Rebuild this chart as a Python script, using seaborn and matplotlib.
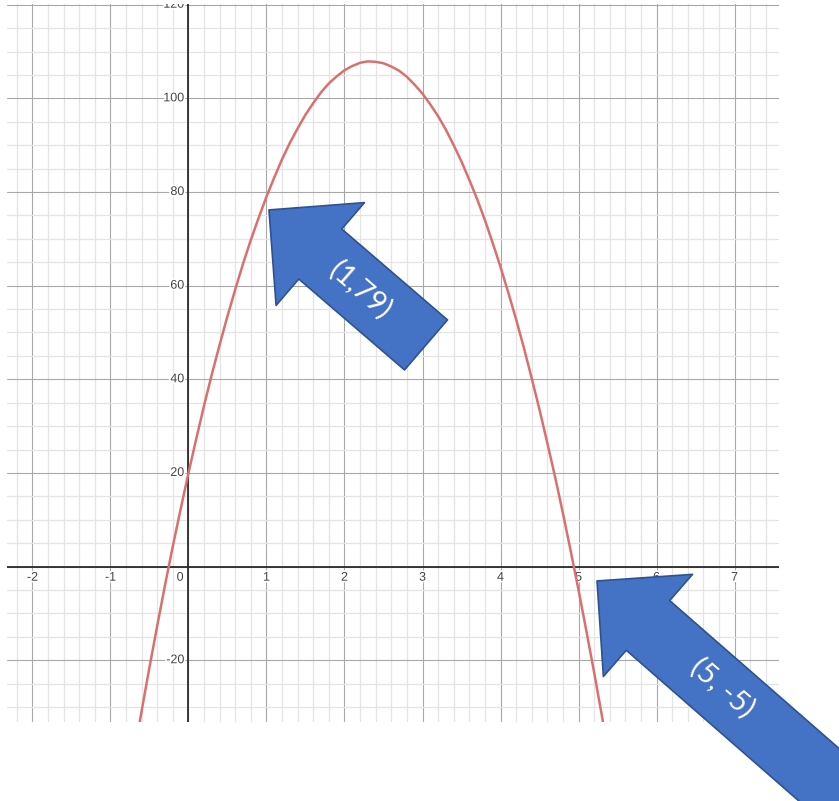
import numpy as np
import pandas as pd
import seaborn as sns
import matplotlib.pyplot as plt
import matplotlib.transforms as mtransforms
import matplotlib.patheffects as pe
from matplotlib.patches import FancyArrowPatch
from matplotlib.ticker import MultipleLocator

# points
x_vals = [-0.7, -0.6, -0.5, -0.4, -0.3, -0.2, -0.1, 0.0, 0.1, 0.2, 0.3, 0.4, 0.5, 0.6,
          0.7, 0.8, 0.9, 1.0, 1.1, 1.2, 1.3, 1.4, 1.5, 1.6, 1.7, 1.8, 1.9, 2.0, 2.1,
          2.2, 2.3, 2.4, 2.5, 2.6, 2.7, 2.8, 2.9, 3.0, 3.1, 3.2, 3.3, 3.4, 3.5, 3.6,
          3.7, 3.8, 3.9, 4.0, 4.1, 4.2, 4.3, 4.4, 4.5, 4.6, 4.7, 4.8, 4.9, 5.0, 5.1,
          5.2, 5.3, 5.4]
y_vals = [-40.3, -30.8, -21.5, -12.6, -3.9, 4.4, 12.3, 20.0, 27.3, 34.4, 41.1, 47.4, 53.5, 59.2,
          64.7, 69.8, 74.5, 79.0, 83.1, 87.0, 90.5, 93.6, 96.5, 99.0, 101.3, 103.2, 104.7, 106.0, 106.9,
          107.6, 107.9, 107.8, 107.5, 106.8, 105.9, 104.6, 102.9, 101.0, 98.7, 96.2, 93.3, 90.0, 86.5, 82.6,
          78.5, 74.0, 69.1, 64.0, 58.5, 52.8, 46.7, 40.2, 33.5, 26.4, 19.1, 11.4, 3.3, -5.0, -13.7,
          -22.6, -31.9, -41.6]

x_tick_labels = [-2, -1, 1, 2, 3, 4, 5, 6, 7]
y_tick_labels = [-20, 20, 40, 60, 80, 100, 120]

callout_labels = ["(1,79)", "(5, -5)"]

df = pd.DataFrame({"x": x_vals, "y": y_vals})

sns.set_style("white")
plt.rcParams['font.family'] = ['Liberation Sans', 'DejaVu Sans']

fig = plt.figure(figsize=(8.39, 8.01), dpi=100)
ax = fig.add_axes([0.008, 0.0986, 0.9205, 0.8964])

ax.set_xlim(-2.33, 7.57)
ax.set_ylim(-33.2, 120.15)

# grid
ax.xaxis.set_major_locator(MultipleLocator(1))
ax.xaxis.set_minor_locator(MultipleLocator(0.2))
ax.yaxis.set_major_locator(MultipleLocator(20))
ax.yaxis.set_minor_locator(MultipleLocator(5))
ax.grid(which="minor", color="#e4e4e4", linewidth=0.9, zorder=0)
ax.grid(which="major", color="#a8a8a8", linewidth=0.8, zorder=0)
ax.set_axisbelow(True)
ax.tick_params(which="both", length=0, labelbottom=False, labelleft=False)
for s in ax.spines.values():
    s.set_visible(False)
ax.set_xlabel("")
ax.set_ylabel("")

ax.axhline(0, color="#2a2a2a", linewidth=1.3, zorder=1)
ax.axvline(0, color="#2a2a2a", linewidth=1.3, zorder=1)

# tick labels sitting on the axis lines
halo = [pe.withStroke(linewidth=2.5, foreground="white")]
xoff = mtransforms.offset_copy(ax.transData, fig=fig, x=0, y=-8, units="points")
for v in x_tick_labels:
    ax.text(v, 0, str(v), transform=xoff, ha="center", va="center", fontsize=9,
            color="#444444", clip_on=True, path_effects=halo, zorder=2)
yoff = mtransforms.offset_copy(ax.transData, fig=fig, x=-3, y=0, units="points")
for v in y_tick_labels:
    ax.text(0, v, str(v), transform=yoff, ha="right", va="center", fontsize=9,
            color="#444444", clip_on=True, path_effects=halo, zorder=2)
zoff = mtransforms.offset_copy(ax.transData, fig=fig, x=-6, y=-8, units="points")
ax.text(0, 0, "0", transform=zoff, ha="center", va="center", fontsize=9,
        color="#444444", clip_on=True, path_effects=halo, zorder=2)

sns.lineplot(data=df, x="x", y="y", ax=ax, color="#d9706e", linewidth=1.8, zorder=3)
ax.set_xlabel("")
ax.set_ylabel("")

# block arrow callouts
arrow_style = "simple,head_length=48.7,head_width=97.6,tail_width=47.5"
tips = [(1.032, 76.17), (5.237, -3.07)]
tails = [(3.045, 47.34), (9.096, -59.2)]
text_pos = [(2.21, 59.0), (6.85, -26.0)]
for tip, tail, lab, tp in zip(tips, tails, callout_labels, text_pos):
    arr = FancyArrowPatch(posA=tail, posB=tip, arrowstyle=arrow_style, mutation_scale=1,
                          shrinkA=0, shrinkB=0, facecolor="#4472c4", edgecolor="#2f528f",
                          linewidth=1.2, transform=ax.transData, clip_on=False, zorder=5)
    ax.add_patch(arr)
    ax.text(tp[0], tp[1], lab, rotation=-41, rotation_mode="anchor", ha="center", va="center",
            color="white", fontsize=21, family=["Lato", "DejaVu Sans"], zorder=6)

fig.savefig("out.png", dpi=100)
